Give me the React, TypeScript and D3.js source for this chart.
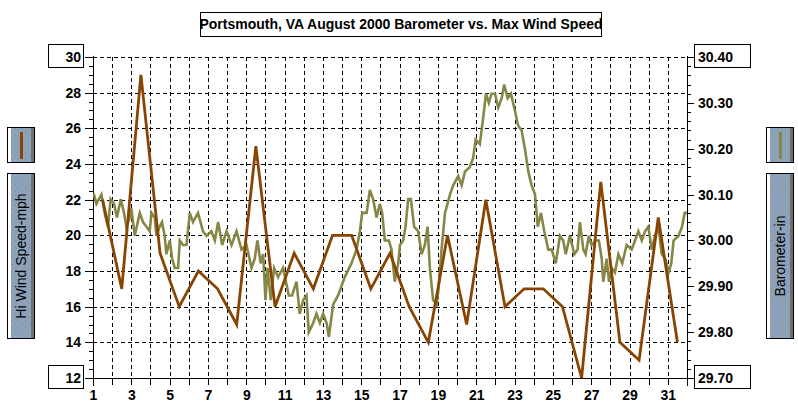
import { useEffect, useRef } from 'react';
import * as d3 from 'd3';

const TITLE = 'Portsmouth, VA August 2000 Barometer vs. Max Wind Speed';

// daily max wind, plotted at midday
const windDays = [1.5, 2.5, 3.5, 4.5, 5.5, 6.5, 7.5, 8.5, 9.5, 10.5, 11.5, 12.5, 13.5, 14.5, 15.5, 16.5,
  17.5, 18.5, 19.5, 20.5, 21.5, 22.5, 23.5, 24.5, 25.5, 26.5, 27.5, 28.5, 29.5, 30.5, 31.5];
const windSpeed = [22, 17, 29, 19, 16, 18, 17, 15, 25, 16, 19, 17, 20, 20, 17, 19,
  16, 14, 20, 15, 22, 16, 17, 17, 16, 12, 23, 14, 13, 21, 14];

const baroDays = [
  1.00, 1.05, 1.18, 1.44, 1.61, 1.78, 1.92, 2.10, 2.25, 2.45, 2.62, 2.74, 2.92, 3.00, 3.18, 3.44, 3.61, 3.79, 3.96,
  4.05, 4.22, 4.31, 4.48, 4.60, 4.74, 4.83, 5.01, 5.13, 5.27, 5.44, 5.53, 5.70, 5.88, 6.05, 6.22, 6.48, 6.74, 6.92,
  7.18, 7.36, 7.53, 7.74, 7.97, 8.23, 8.49, 8.75, 9.01, 9.27, 9.44, 9.58, 9.75, 9.88, 10.00, 10.11, 10.28, 10.45,
  10.66, 10.92, 11.22, 11.39, 11.62, 11.79, 11.97, 12.14, 12.26, 12.49, 12.66, 12.84, 13.01, 13.19, 13.31, 13.53,
  13.79, 14.14, 14.49, 14.75, 14.93, 15.05, 15.28, 15.45, 15.62, 15.80, 15.97, 16.09, 16.23, 16.44, 16.58, 16.75,
  16.93, 17.02, 17.19, 17.31, 17.45, 17.59, 17.76, 17.97, 18.15, 18.32, 18.46, 18.58, 18.75, 18.93, 19.02, 19.19,
  19.37, 19.63, 19.80, 20.06, 20.24, 20.41, 20.67, 20.84, 20.97, 21.19, 21.37, 21.51, 21.66, 21.80, 21.98, 22.15,
  22.33, 22.46, 22.64, 22.81, 22.98, 23.19, 23.37, 23.54, 23.72, 23.89, 24.07, 24.21, 24.38, 24.55, 24.76, 24.94,
  25.15, 25.37, 25.54, 25.67, 25.89, 26.12, 26.29, 26.41, 26.59, 26.71, 26.88, 27.02, 27.23, 27.40, 27.55, 27.63,
  27.81, 27.93, 28.07, 28.24, 28.42, 28.62, 28.85, 29.11, 29.29, 29.46, 29.64, 29.81, 29.98, 30.16, 30.33, 30.51,
  30.68, 30.87, 31.04, 31.18, 31.30, 31.56, 31.74, 31.88, 32.00
];
const baroInches = [
  30.10, 30.10, 30.08, 30.10, 30.06, 30.03, 30.09, 30.08, 30.05, 30.09, 30.06, 30.03, 30.05, 30.07, 30.01, 30.06, 30.04, 30.03, 30.02,
  30.06, 30.05, 30.01, 30.03, 30.04, 30.01, 29.97, 30.00, 29.96, 29.94, 29.94, 30.00, 29.99, 29.99, 30.06, 30.04, 30.06, 30.02, 30.01,
  30.02, 30.00, 30.04, 29.99, 30.02, 29.99, 30.02, 29.98, 29.99, 29.94, 29.96, 30.00, 29.95, 29.97, 29.87, 29.94, 29.87, 29.94,
  29.92, 29.94, 29.88, 29.88, 29.91, 29.84, 29.87, 29.88, 29.80, 29.82, 29.84, 29.82, 29.84, 29.82, 29.79, 29.86,
  29.88, 29.92, 29.95, 29.98, 30.02, 30.06, 30.06, 30.11, 30.09, 30.05, 30.08, 30.06, 30.00, 30.00, 29.98, 29.91,
  29.95, 29.99, 30.00, 30.03, 30.09, 30.09, 30.03, 30.02, 29.97, 29.99, 30.03, 29.94, 29.87, 29.86, 29.89, 29.98,
  30.06, 30.10, 30.12, 30.14, 30.12, 30.15, 30.16, 30.18, 30.22, 30.21, 30.27, 30.32, 30.30, 30.32, 30.32, 30.29,
  30.31, 30.34, 30.31, 30.32, 30.29, 30.25, 30.24, 30.20, 30.15, 30.12, 30.10, 30.03, 30.06, 30.02, 29.98, 29.98,
  29.95, 30.01, 30.00, 29.97, 30.01, 29.97, 29.98, 30.04, 29.98, 29.97, 30.01, 29.99, 30.00, 30.00, 29.96, 29.91,
  29.96, 29.91, 29.94, 29.93, 29.97, 29.95, 29.99, 29.98, 30.00, 30.02, 30.00, 30.02, 30.03, 29.98, 30.01, 30.03,
  29.97, 29.96, 29.93, 29.95, 30.00, 30.01, 30.03, 30.06, 30.06
];

const dayLabels = [1, 3, 5, 7, 9, 11, 13, 15, 17, 19, 21, 23, 25, 27, 29, 31];
const windTicks = [12, 14, 16, 18, 20, 22, 24, 26, 28, 30];
const baroTicks = [29.7, 29.8, 29.9, 30.0, 30.1, 30.2, 30.3, 30.4];

const WIND_COLOR = '#884400';
const BARO_COLOR = '#868646';
const FONT = '"Liberation Sans", Arial, sans-serif';

const App = () => {
  const svgRef = useRef(null);

  useEffect(() => {
    document.body.style.margin = '0';
    const svg = d3.select(svgRef.current);
    svg.selectAll('*').remove();

    const plot = { left: 93, right: 687, top: 57, bottom: 378 };

    const x = d3.scaleLinear().domain([1, 32]).range([plot.left, plot.right]);
    const yWind = d3.scaleLinear().domain([12, 30]).range([plot.bottom, plot.top]);
    const yBaro = d3.scaleLinear().domain([29.7, 30.4]).range([plot.bottom, plot.top]);
    const px = (v) => Math.round(v) + 0.5;

    // dotted fill for the legend boxes
    const defs = svg.append('defs');
    const pat = defs.append('pattern')
      .attr('id', 'dots')
      .attr('width', 7)
      .attr('height', 7)
      .attr('patternUnits', 'userSpaceOnUse');
    pat.append('rect').attr('width', 7).attr('height', 7).attr('fill', '#8ba2ba');
    pat.append('rect').attr('x', 1).attr('y', 2).attr('width', 1).attr('height', 1).attr('fill', '#a08878');
    pat.append('rect').attr('x', 4).attr('y', 5).attr('width', 1).attr('height', 1).attr('fill', '#a08878');

    // title
    svg.append('rect')
      .attr('x', 200.5).attr('y', 12.5).attr('width', 401).attr('height', 24)
      .attr('fill', '#fff').attr('stroke', '#000');
    svg.append('text')
      .attr('x', 401).attr('y', 29)
      .attr('text-anchor', 'middle')
      .attr('font-family', FONT).attr('font-weight', 'bold').attr('font-size', '14px')
      .text(TITLE);

    // grid
    const grid = svg.append('g')
      .attr('stroke', '#000')
      .attr('stroke-dasharray', '4,3')
      .attr('shape-rendering', 'crispEdges');
    grid.selectAll(null)
      .data(d3.range(2, 32))
      .enter()
      .append('line')
      .attr('x1', d => px(x(d))).attr('x2', d => px(x(d)))
      .attr('y1', plot.top).attr('y2', plot.bottom);
    grid.selectAll(null)
      .data(windTicks.filter(d => d > 12))
      .enter()
      .append('line')
      .attr('x1', plot.left).attr('x2', plot.right)
      .attr('y1', d => px(yWind(d))).attr('y2', d => px(yWind(d)));

    // axis lines
    const axes = svg.append('g').attr('stroke', '#000').attr('shape-rendering', 'crispEdges');
    axes.append('line').attr('x1', px(plot.left)).attr('x2', px(plot.left)).attr('y1', plot.top - 1).attr('y2', plot.bottom + 8);
    axes.append('line').attr('x1', px(plot.right)).attr('x2', px(plot.right)).attr('y1', plot.top - 1).attr('y2', plot.bottom + 8);
    axes.append('line').attr('x1', plot.left).attr('x2', plot.right).attr('y1', px(plot.bottom)).attr('y2', px(plot.bottom));

    // left ticks
    axes.selectAll(null)
      .data(d3.range(12, 30.01, 0.5))
      .enter()
      .append('line')
      .attr('x1', d => (d % 2 === 0 ? plot.left - 8 : plot.left - 4))
      .attr('x2', d => (d % 2 === 0 ? plot.left + 3 : plot.left))
      .attr('y1', d => px(yWind(d))).attr('y2', d => px(yWind(d)));

    // right ticks
    axes.selectAll(null)
      .data(d3.range(0, 36))
      .enter()
      .append('line')
      .attr('x1', plot.right)
      .attr('x2', d => (d % 5 === 0 ? plot.right + 7 : plot.right + 4))
      .attr('y1', d => px(yBaro(29.7 + d * 0.02))).attr('y2', d => px(yBaro(29.7 + d * 0.02)));

    // bottom ticks
    axes.selectAll(null)
      .data(d3.range(1, 33))
      .enter()
      .append('line')
      .attr('x1', d => px(x(d))).attr('x2', d => px(x(d)))
      .attr('y1', plot.bottom).attr('y2', plot.bottom + 7);

    // boxes around the end labels
    [yWind(30), yWind(12)].forEach(y => {
      svg.append('rect')
        .attr('x', 48.5).attr('y', Math.round(y) - 12.5).attr('width', 35).attr('height', 23)
        .attr('fill', '#fff').attr('stroke', '#000');
    });
    [yBaro(30.4), yBaro(29.7)].forEach(y => {
      svg.append('rect')
        .attr('x', 694.5).attr('y', Math.round(y) - 12.5).attr('width', 56).attr('height', 23)
        .attr('fill', '#fff').attr('stroke', '#000');
    });

    const labels = svg.append('g')
      .attr('font-family', FONT).attr('font-weight', 'bold').attr('font-size', '14px');

    labels.selectAll(null)
      .data(windTicks)
      .enter()
      .append('text')
      .attr('x', 81)
      .attr('y', d => yWind(d) + 5)
      .attr('text-anchor', 'end')
      .text(d => d);

    labels.selectAll(null)
      .data(baroTicks)
      .enter()
      .append('text')
      .attr('x', 698)
      .attr('y', d => yBaro(d) + 5)
      .text(d => d3.format('.2f')(d));

    labels.selectAll(null)
      .data(dayLabels)
      .enter()
      .append('text')
      .attr('x', d => x(d) + 0.5)
      .attr('y', 400)
      .attr('text-anchor', 'middle')
      .text(d => d);

    // series
    const baroLine = d3.line()
      .x(d => x(d[0]))
      .y(d => yBaro(d[1]));
    svg.append('path')
      .datum(baroDays.map((d, i) => [d, baroInches[i]]))
      .attr('fill', 'none')
      .attr('stroke', BARO_COLOR)
      .attr('stroke-width', 2.6)
      .attr('stroke-linejoin', 'miter')
      .attr('d', baroLine);

    const windLine = d3.line()
      .x(d => x(d[0]))
      .y(d => yWind(d[1]));
    svg.append('path')
      .datum(windDays.map((d, i) => [d, windSpeed[i]]))
      .attr('fill', 'none')
      .attr('stroke', WIND_COLOR)
      .attr('stroke-width', 2.8)
      .attr('d', windLine);

    // side legends
    const legendBox = (x0, y0, h) => {
      const g = svg.append('g');
      g.append('rect').attr('x', x0 + 0.5).attr('y', y0 + 0.5).attr('width', 27).attr('height', h - 1)
        .attr('fill', 'url(#dots)').attr('stroke', '#000');
      g.append('rect').attr('x', x0 + 1).attr('y', y0 + 1).attr('width', 3).attr('height', h - 2).attr('fill', '#fff');
      g.append('rect').attr('x', x0 + 24).attr('y', y0 + 1).attr('width', 3).attr('height', h - 2).attr('fill', '#707070');
      return g;
    };

    const sides = [
      { x0: 7, color: WIND_COLOR, label: 'Hi Wind Speed-mph' },
      { x0: 766, color: BARO_COLOR, label: 'Barometer-in' }
    ];
    sides.forEach(s => {
      const small = legendBox(s.x0, 127, 36);
      small.append('rect')
        .attr('x', s.x0 + 13).attr('y', 132).attr('width', 3).attr('height', 27)
        .attr('fill', s.color);
      const big = legendBox(s.x0, 173, 166);
      big.append('text')
        .attr('transform', `translate(${s.x0 + 19},256) rotate(-90)`)
        .attr('text-anchor', 'middle')
        .attr('font-family', FONT).attr('font-size', '14px')
        .attr('fill', '#000')
        .text(s.label);
    });
  }, []);

  return (
    <svg ref={svgRef} width={798} height={404} style={{ display: 'block', background: '#fff' }} />
  );
};

export default App;
